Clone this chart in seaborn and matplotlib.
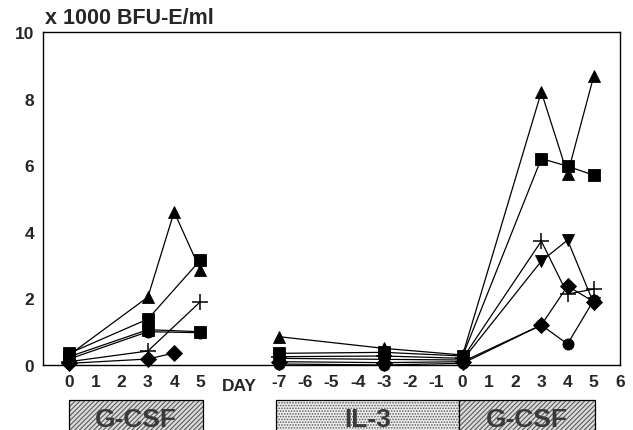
"""
BFU-E per ml during G-CSF and IL-3 courses
"""

import numpy as np
import pandas as pd
import seaborn as sns
import matplotlib.pyplot as plt
from matplotlib.patches import Rectangle
from matplotlib.transforms import blended_transform_factory

nan = np.nan

# first G-CSF course (days 0-5)
g1_days = [0, 3, 4, 5]
g1_tri_up = [0.30, 2.04, 4.60, 2.85]
g1_square = [0.35, 1.38, nan, 3.15]
g1_plus = [0.10, 0.42, nan, 1.90]
g1_square2 = [0.25, 1.06, nan, 1.00]
g1_circle = [0.18, 1.00, nan, 0.97]
g1_diamond = [0.05, 0.18, 0.36, nan]

# IL-3 (days -7..0) followed by second G-CSF course (days 0-5)
c2_days = [-7, -3, 0, 3, 4, 5]
c2_tri_up = [0.85, 0.50, 0.30, 8.20, 5.73, 8.68]
c2_square = [0.35, 0.38, 0.27, 6.20, 5.97, 5.70]
c2_plus = [0.25, 0.27, 0.20, 3.72, 2.13, 2.28]
c2_tri_down = [0.20, 0.17, 0.15, 3.12, 3.75, 1.85]
c2_diamond = [0.10, 0.07, 0.10, 1.20, 2.37, 1.90]
c2_circle = [0.03, 0.00, 0.05, 1.20, 0.63, 1.95]

tick_labels = ["0", "1", "2", "3", "4", "5", "", "",
               "-7", "-6", "-5", "-4", "-3", "-2", "-1",
               "0", "1", "2", "3", "4", "5", "6"]

markers = {"tri_up": "^", "square": "s", "square2": "s",
           "circle": "o", "diamond": "D", "tri_down": "v"}

# day -> position on the shared x axis
c2_offset = 15

rows = []
g1 = {"tri_up": g1_tri_up, "square": g1_square, "plus": g1_plus,
      "square2": g1_square2, "circle": g1_circle, "diamond": g1_diamond}
for name, vals in g1.items():
    for d, v in zip(g1_days, vals):
        if not np.isnan(v):
            rows.append(("g1", name, d, v))
c2 = {"tri_up": c2_tri_up, "square": c2_square, "plus": c2_plus,
      "tri_down": c2_tri_down, "diamond": c2_diamond, "circle": c2_circle}
for name, vals in c2.items():
    for d, v in zip(c2_days, vals):
        rows.append(("c2", name, d + c2_offset, v))
df = pd.DataFrame(rows, columns=["course", "series", "pos", "bfu"])
filled = df[df.series != "plus"]
plus = df[df.series == "plus"]

sns.set_style("white")
plt.rcParams["font.family"] = ["Liberation Sans", "DejaVu Sans"]
plt.rcParams["hatch.linewidth"] = 0.8

fig = plt.figure(figsize=(6.33, 4.31), dpi=100)
ax = fig.add_axes([43 / 633, 65 / 431, 577 / 633, 333 / 431])

sns.lineplot(
    data=filled, x="pos", y="bfu", hue="series", style="series",
    units="course", estimator=None, sort=True,
    palette={k: "black" for k in markers}, markers=markers, dashes=False,
    linewidth=0.9, markersize=8, markeredgewidth=0.6,
    markeredgecolor="black", clip_on=False, legend=False, ax=ax
)
sns.lineplot(
    data=plus, x="pos", y="bfu", units="course", estimator=None,
    color="black", marker="+", linewidth=0.9, markersize=12,
    markeredgewidth=1.1, markeredgecolor="black", clip_on=False,
    legend=False, ax=ax
)

ax.set_xlim(-1, 21)
ax.set_ylim(0, 10)
ax.set_xticks(range(22))
ax.set_xticklabels(tick_labels)
ax.set_yticks([0, 2, 4, 6, 8, 10])
ax.set_xlabel("")
ax.set_ylabel("")
for s in ax.spines.values():
    s.set_color("black")
    s.set_linewidth(1.0)
ax.tick_params(axis="both", direction="out", length=4.5, width=0.9,
               color="black", labelsize=12.5, pad=2)
for lab in ax.get_xticklabels() + ax.get_yticklabels():
    lab.set_fontweight("bold")

tr = blended_transform_factory(ax.transData, ax.transAxes)
ax.text(6.5, -0.063, "DAY", transform=tr, ha="center", va="center",
        fontsize=12.5, fontweight="bold")

fig.text(45 / 633, 1 - 19 / 431, "x 1000 BFU-E/ml", ha="left", va="center",
         fontsize=15.5, fontweight="bold")

# treatment bars under the axis
box_y, box_h = -0.105, 0.14
bars = [(-0.02, 5.1, "G-CSF", "///////", "#dcdcdc"),
        (7.9, 14.85, "IL-3", "......", "#efefef"),
        (14.85, 20.05, "G-CSF", "///////", "#dcdcdc")]
for x0, x1, label, hatch, fc in bars:
    ax.add_patch(Rectangle((x0, box_y - box_h), x1 - x0, box_h,
                           transform=tr, clip_on=False, facecolor=fc,
                           edgecolor="#5a5a5a", hatch=hatch, linewidth=0))
    ax.add_patch(Rectangle((x0, box_y - box_h), x1 - x0, box_h,
                           transform=tr, clip_on=False, facecolor="none",
                           edgecolor="black", linewidth=0.9))
    ax.text((x0 + x1) / 2, -0.163, label, transform=tr, ha="center",
            va="center", fontsize=19, fontweight="bold", color="#3a3a3a")

fig.savefig("out.png", dpi=100)
